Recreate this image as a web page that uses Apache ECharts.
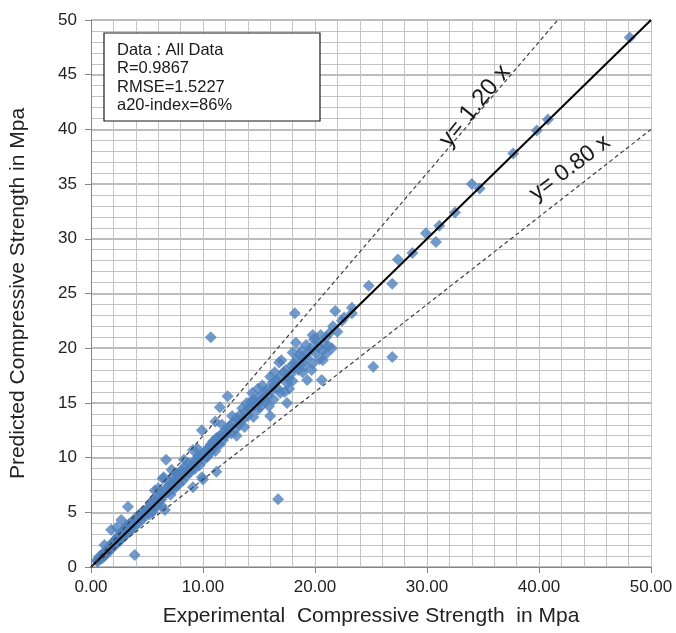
<!DOCTYPE html>
<html>
<head>
<meta charset="utf-8">
<script src="https://cdn.jsdelivr.net/npm/echarts@6/dist/echarts.min.js"></script>
<style>
  html, body { margin: 0; padding: 0; background: #fff; }
</style>
</head>
<body>
<div id="chart" style="width: 676px; height: 633px"></div>
<script>
// experimental vs predicted (Mpa)
var pointsLow = [
  [0.5,0.6],[0.6,0.5],[0.7,0.8],[0.8,0.7],[0.8,1.0],[0.9,0.9],[1.0,1.1],[1.0,0.8],[1.1,1.2],[1.2,1.0],
  [1.2,1.4],[1.3,1.3],[1.4,1.5],[1.4,1.2],[1.5,1.7],[1.5,1.4],[1.6,1.6],[1.7,1.9],[1.7,1.5],[1.8,2.0],
  [1.8,1.7],[1.9,2.2],[2.0,1.9],[2.0,2.3],[2.1,2.1],[2.2,2.5],[2.2,2.0],[2.3,2.6],[2.4,2.3],[2.4,2.8],
  [2.5,2.5],[2.6,2.9],[2.6,2.4],[2.7,3.1],[2.8,2.7],[2.8,3.3],[2.9,3.0],[3.0,3.4],[3.0,2.8],[3.1,3.6],
  [3.2,3.1],[3.2,3.8],[3.3,3.4],[3.4,3.9],[3.4,3.2],[3.5,3.6],[3.6,4.1],[3.6,3.4],[3.7,3.8],[3.8,4.3],
  [3.9,3.7],[4.0,4.2],[4.1,4.6],[4.2,4.0],[4.3,4.5],[4.4,4.9],[4.5,4.3],[4.6,4.8],[4.7,5.1],[4.8,4.6],
  [4.9,5.2],[5.0,5.0],[1.8,3.4],[2.7,4.3],[3.3,5.5],[3.9,1.1],[2.3,3.6],[1.2,2.0]
];
var pointsMid = [
  [5.1,5.4],[5.2,4.8],[5.3,5.8],[5.4,5.2],[5.5,5.9],[5.5,5.0],[5.6,6.2],[5.7,5.5],[5.7,7.0],[5.8,6.0],
  [5.9,5.6],[6.0,6.4],[6.1,6.0],[6.2,6.8],[6.3,6.2],[6.3,5.6],[6.4,8.1],[6.5,8.2],[6.5,6.6],[6.7,9.8],
  [6.6,5.2],[6.7,7.2],[6.8,6.8],[6.9,7.4],[7.0,7.0],[7.0,7.8],[7.1,6.6],[7.2,7.5],[7.3,7.7],[7.3,8.3],
  [7.4,7.1],[7.5,7.9],[7.6,8.6],[7.6,7.4],[7.7,8.0],[7.8,8.4],[7.9,8.6],[7.9,7.6],[8.0,8.2],[8.1,8.9],
  [8.2,7.9],[8.3,8.5],[8.4,9.1],[8.5,8.3],[8.6,8.8],[8.7,9.5],[8.8,8.6],[8.9,9.2],[9.1,10.7],[9.0,8.9],
  [9.1,7.3],[9.2,9.6],[9.3,9.0],[9.4,9.9],[9.5,9.5],[9.6,10.2],[9.7,9.3],[9.8,10.0],[9.9,12.5],[9.9,8.2],
  [10.0,8.0],[10.0,10.3],[10.1,9.8],[10.2,10.6],[10.3,10.1],[10.4,10.1],[10.5,10.9],[10.6,10.4],[10.7,11.2],[10.8,10.7],
  [10.9,11.5],[11.0,11.0],[11.1,13.3],[11.1,10.6],[11.2,11.8],[11.2,8.7],[11.3,11.3],[11.4,11.9],[11.5,14.6],[11.5,11.2],
  [11.6,12.0],[11.8,11.6],[11.9,12.4],[12.0,12.0],[12.1,12.2],[12.2,15.6],[12.2,12.7],[10.7,21.0],[16.7,6.2],
  [6.0,7.2],[7.2,8.9],[8.3,9.8],[9.5,10.8],[11.7,13.0]
];
var pointsHigh = [
  [12.4,12.9],[12.5,12.2],[12.7,13.2],[12.9,12.6],[13.0,13.6],[13.2,13.0],[13.3,13.4],[13.3,13.9],[13.5,14.5],[13.6,13.5],
  [13.8,14.2],[13.9,15.0],[14.0,13.8],[14.1,14.6],[14.2,14.4],[14.3,15.1],[14.5,15.3],[14.5,13.7],[14.6,14.8],[14.8,15.0],
  [14.9,14.4],[15.0,15.5],[15.1,14.6],[15.2,15.2],[15.4,15.5],[15.5,16.0],[15.6,15.1],[15.7,16.2],[15.8,15.6],[16.0,17.4],
  [16.0,13.8],[16.1,16.1],[16.2,16.8],[16.3,16.5],[16.3,15.3],[16.5,17.0],[16.6,17.1],[16.7,16.3],[16.8,18.7],[16.9,15.9],
  [16.9,17.4],[17.2,17.8],[17.4,18.0],[17.5,16.8],[17.5,15.0],[17.6,17.2],[17.7,16.3],[17.8,17.6],[17.9,18.4],[18.0,17.0],
  [18.1,18.6],[18.2,18.2],[18.2,23.2],[18.3,20.5],[18.4,19.0],[18.5,18.0],[18.6,19.4],[18.7,18.5],[18.8,19.8],[18.9,17.8],
  [19.0,19.2],[19.2,20.3],[19.3,19.1],[19.3,17.1],[19.5,19.7],[19.6,20.0],[19.7,18.0],[19.8,18.6],[19.9,20.8],[20.0,19.6],
  [20.2,20.6],[20.3,20.1],[20.5,21.2],[20.6,17.1],[20.7,19.8],[20.7,18.9],[20.8,20.4],[21.0,21.0],[21.2,20.2],[21.3,21.4],
  [21.5,20.0],[21.6,22.0],[21.8,23.4],[22.0,21.5],[22.4,22.5],[22.6,22.8],[23.3,23.2],
  [12.6,13.8],[13.0,12.0],[13.7,12.8],[14.4,15.9],[14.9,16.3],[15.3,16.6],[15.9,14.7],[16.4,17.8],[17.0,18.9],[17.3,16.0],
  [18.0,19.6],[19.1,18.4],[19.8,21.2],[20.4,19.0],[21.0,19.5]
];
var pointsUpper = [
  [23.3,23.7],[24.8,25.7],[25.2,18.3],[26.9,25.9],[26.9,19.2],[27.4,28.1],[28.7,28.7],[29.9,30.5],[30.8,29.7],[31.1,31.2],
  [32.5,32.4],[34.0,35.0],[34.7,34.6],[37.7,37.8],[39.8,39.9],[40.8,40.9],[48.1,48.4]
];
var lineEqual = [[0, 0], [50, 50]];
var line120 = [[0, 0], [41.667, 50]];
var line080 = [[0, 0], [50, 40]];
var statsLines = ["Data : All Data", "R=0.9867", "RMSE=1.5227", "a20-index=86%"];

var font = "Liberation Sans, Arial, sans-serif";
var chart = echarts.init(document.getElementById("chart"));

var option = {
  animation: false,
  backgroundColor: "#fff",
  grid: { left: 91, right: 25, top: 20, bottom: 66 },
  xAxis: {
    type: "value",
    min: 0,
    max: 50,
    interval: 10,
    name: "Experimental  Compressive Strength  in Mpa",
    nameLocation: "middle",
    nameGap: 39,
    nameTextStyle: { fontFamily: font, fontSize: 21, color: "#222" },
    axisLine: { lineStyle: { color: "#868686", width: 1 } },
    axisTick: { show: true, length: 6, lineStyle: { color: "#868686" } },
    axisLabel: {
      fontFamily: font, fontSize: 17, color: "#222", margin: 12,
      formatter: function (v) { return v.toFixed(2); }
    },
    splitLine: { show: true, lineStyle: { color: "#c4c4c4", width: 1 } },
    minorTick: { show: false, splitNumber: 5 },
    minorSplitLine: { show: true, lineStyle: { color: "#c4c4c4", width: 1 } }
  },
  yAxis: {
    type: "value",
    min: 0,
    max: 50,
    interval: 5,
    name: "Predicted Compressive Strength in Mpa",
    nameLocation: "middle",
    nameGap: 62,
    nameTextStyle: { fontFamily: font, fontSize: 21, color: "#222" },
    axisLine: { show: true, lineStyle: { color: "#868686", width: 1 } },
    axisTick: { show: true, length: 6, lineStyle: { color: "#868686" } },
    axisLabel: { fontFamily: font, fontSize: 17, color: "#222", margin: 14 },
    splitLine: { show: true, lineStyle: { color: "#a6a6a6", width: 1.5 } },
    minorTick: { show: false, splitNumber: 5 },
    minorSplitLine: { show: true, lineStyle: { color: "#c4c4c4", width: 1 } }
  },
  series: [
    {
      type: "scatter",
      symbol: "diamond",
      symbolSize: 12,
      itemStyle: { color: "#4F81BD" },
      data: pointsLow.concat(pointsMid, pointsHigh, pointsUpper),
      z: 2
    },
    {
      type: "line",
      data: lineEqual,
      symbol: "none",
      lineStyle: { color: "#000", width: 2 },
      z: 5
    },
    {
      type: "line",
      data: line120,
      symbol: "none",
      lineStyle: { color: "#404040", width: 1.2, type: [4, 3] },
      z: 5
    },
    {
      type: "line",
      data: line080,
      symbol: "none",
      lineStyle: { color: "#404040", width: 1.2, type: [4, 3] },
      z: 5
    }
  ],
  graphic: [
    {
      type: "rect",
      shape: { x: 104, y: 33, width: 216, height: 88 },
      style: { fill: "#fff", stroke: "#1a1a1a", lineWidth: 1.2 },
      z: 10
    },
    {
      type: "text",
      x: 117,
      y: 41,
      style: {
        text: statsLines.join("\n"),
        fontFamily: font,
        fontSize: 16.5,
        lineHeight: 18.5,
        fill: "#1a1a1a",
        verticalAlign: "top"
      },
      z: 11
    },
    {
      type: "text",
      x: 475,
      y: 106,
      rotation: 51 * Math.PI / 180,
      style: {
        text: "y= 1.20 x",
        fontFamily: font,
        fontSize: 24,
        fill: "#1a1a1a",
        align: "center",
        verticalAlign: "middle"
      },
      z: 11
    },
    {
      type: "text",
      x: 570,
      y: 168,
      rotation: 37 * Math.PI / 180,
      style: {
        text: "y= 0.80 x",
        fontFamily: font,
        fontSize: 23,
        fill: "#1a1a1a",
        align: "center",
        verticalAlign: "middle"
      },
      z: 11
    }
  ]
};

chart.setOption(option);
</script>
</body>
</html>
